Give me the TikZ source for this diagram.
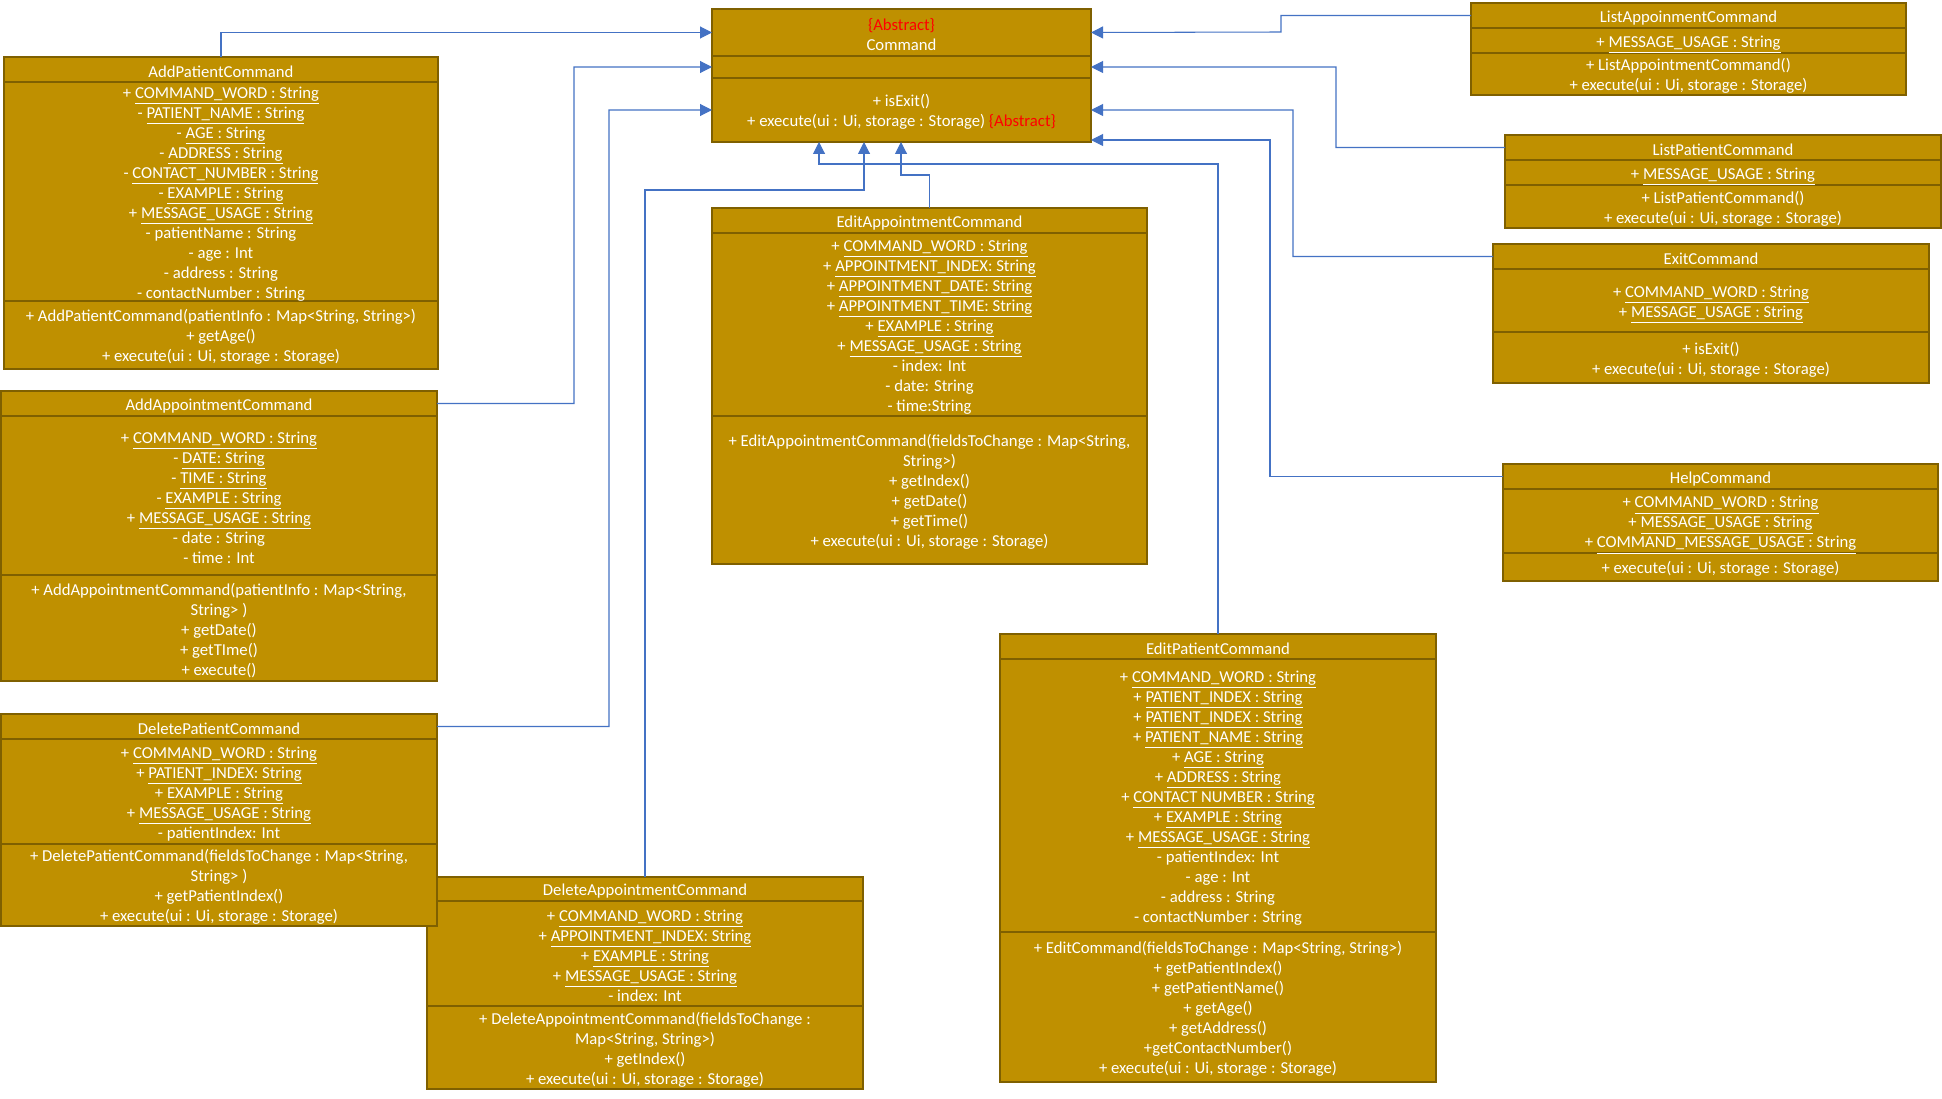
\documentclass[tikz,border=0pt]{standalone}
\usepackage{fontspec}
\setmainfont{Carlito}
\usepackage{tkz-euclide}
\usetikzlibrary{arrows.meta}
\definecolor{umlgold}{HTML}{BF9000}
\definecolor{umlborder}{HTML}{7F6000}
\definecolor{umlblue}{HTML}{4472C4}
\definecolor{umlred}{HTML}{FF0000}
\tikzset{
  umlpart/.style={draw=umlborder, fill=umlgold, line width=1.2pt,
    anchor=north west, inner sep=0pt, outer sep=0pt},
  umltext/.style={text=white, align=center, inner sep=0pt, yshift=-0.045cm,
    font=\fontsize{9.5}{11.38}\selectfont},
  inherit/.style={draw=umlblue, line width=0.6pt,
    -{Triangle[length=0.24cm,width=0.24cm]}}
}
\newcommand\ustatic[1]{\sbox0{\underline{#1}}\sbox2{g}\dp0=\dp2 \usebox0}
\newcommand\umlclass[9]{%
  \node[umlpart, minimum width=#3*0.02cm, minimum height=#4*0.02cm] (#1) at #2 {};
  \node[umlpart, minimum width=#3*0.02cm, minimum height=#5*0.02cm] (#1-a) at (#1.south west) {};
  \node[umlpart, minimum width=#3*0.02cm, minimum height=#6*0.02cm] (#1-m) at (#1-a.south west) {};
  \node[umltext] (#1-tt) at (#1.center) {#7};
  \node[umltext] (#1-at) at (#1-a.center) {#8};
  \node[umltext] (#1-mt) at (#1-m.center) {#9};
}
\begin{document}
\begin{tikzpicture}[x=0.02cm,y=-0.02cm]
            \fill[white] (0,0) rectangle (1942,1098);
            \useasboundingbox (0,0) rectangle (1942,1098);
            \umlclass{Cmd}{(712,9)}{379}{47}{22}{64}
              {{\color{umlred}\{Abstract\}}\\Command}
              {}
              {+ isExit()\\+ execute(ui : Ui, storage : Storage) {\color{umlred}\{Abstract\}}}
            \umlclass{AddP}{(4,57)}{434}{25}{219}{68}
              {AddPatientCommand}
              {+ \ustatic{COMMAND\_WORD : String}\\- \ustatic{PATIENT\_NAME : String}\\
               - \ustatic{AGE : String}\\- \ustatic{ADDRESS : String}\\
               - \ustatic{CONTACT\_NUMBER : String}\\- \ustatic{EXAMPLE : String}\\
               + \ustatic{MESSAGE\_USAGE : String}\\- patientName : String\\
               - age : Int\\- address : String\\- contactNumber : String}
              {+ AddPatientCommand(patientInfo : Map<String, String>)\\+ getAge()\\
               + execute(ui : Ui, storage : Storage)}
            \umlclass{AddA}{(1,391)}{436}{25}{159}{106}
              {AddAppointmentCommand}
              {+ \ustatic{COMMAND\_WORD : String}\\- \ustatic{DATE: String}\\
               - \ustatic{TIME : String}\\- \ustatic{EXAMPLE : String}\\
               + \ustatic{MESSAGE\_USAGE : String}\\- date : String\\- time : Int}
              {+ AddAppointmentCommand(patientInfo : Map<String,\\String> )\\
               + getDate()\\+ getTIme()\\+ execute()}
            \umlclass{DelA}{(427,877)}{436}{24}{105}{83}
              {DeleteAppointmentCommand}
              {+ \ustatic{COMMAND\_WORD : String}\\+ \ustatic{APPOINTMENT\_INDEX: String}\\
               + \ustatic{EXAMPLE : String}\\+ \ustatic{MESSAGE\_USAGE : String}\\- index: Int}
              {+ DeleteAppointmentCommand(fieldsToChange :\\Map<String, String>)\\
               + getIndex()\\+ execute(ui : Ui, storage : Storage)}
            \umlclass{DelP}{(1,714)}{436}{25}{105}{82}
              {DeletePatientCommand}
              {+ \ustatic{COMMAND\_WORD : String}\\+ \ustatic{PATIENT\_INDEX: String}\\
               + \ustatic{EXAMPLE : String}\\+ \ustatic{MESSAGE\_USAGE : String}\\
               - patientIndex: Int}
              {+ DeletePatientCommand(fieldsToChange : Map<String,\\String> )\\
               + getPatientIndex()\\+ execute(ui : Ui, storage : Storage)}
            \umlclass{EditA}{(712,208)}{435}{25}{183}{148}
              {EditAppointmentCommand}
              {+ \ustatic{COMMAND\_WORD : String}\\+ \ustatic{APPOINTMENT\_INDEX: String}\\
               + \ustatic{APPOINTMENT\_DATE: String}\\+ \ustatic{APPOINTMENT\_TIME: String}\\
               + \ustatic{EXAMPLE : String}\\+ \ustatic{MESSAGE\_USAGE : String}\\
               - index: Int\\- date: String\\- time:String}
              {+ EditAppointmentCommand(fieldsToChange : Map<String,\\String>)\\
               + getIndex()\\+ getDate()\\+ getTime()\\+ execute(ui : Ui, storage : Storage)}
            \umlclass{EditP}{(1000,634)}{436}{25}{273}{150}
              {EditPatientCommand}
              {+ \ustatic{COMMAND\_WORD : String}\\+ \ustatic{PATIENT\_INDEX : String}\\
               + \ustatic{PATIENT\_INDEX : String}\\+ \ustatic{PATIENT\_NAME : String}\\
               + \ustatic{AGE : String}\\+ \ustatic{ADDRESS : String}\\
               + \ustatic{CONTACT NUMBER : String}\\+ \ustatic{EXAMPLE : String}\\
               + \ustatic{MESSAGE\_USAGE : String}\\- patientIndex: Int\\- age : Int\\
               - address : String\\- contactNumber : String}
              {+ EditCommand(fieldsToChange : Map<String, String>)\\+ getPatientIndex()\\
               + getPatientName()\\+ getAge()\\+ getAddress()\\+getContactNumber()\\
               + execute(ui : Ui, storage : Storage)}
            \umlclass{ListA}{(1471,3)}{435}{25}{25}{42}
              {ListAppoinmentCommand}
              {+ \ustatic{MESSAGE\_USAGE : String}}
              {+ ListAppointmentCommand()\\+ execute(ui : Ui, storage : Storage)}
            \umlclass{ListP}{(1505,135)}{436}{25}{25}{43}
              {ListPatientCommand}
              {+ \ustatic{MESSAGE\_USAGE : String}}
              {+ ListPatientCommand()\\+ execute(ui : Ui, storage : Storage)}
            \umlclass{Exit}{(1493,244)}{436}{25}{63}{51}
              {ExitCommand}
              {+ \ustatic{COMMAND\_WORD : String}\\+ \ustatic{MESSAGE\_USAGE : String}}
              {+ isExit()\\+ execute(ui : Ui, storage : Storage)}
            \umlclass{Help}{(1503,464)}{435}{25}{64}{28}
              {HelpCommand}
              {+ \ustatic{COMMAND\_WORD : String}\\+ \ustatic{MESSAGE\_USAGE : String}\\
               + \ustatic{COMMAND\_MESSAGE\_USAGE : String}}
              {+ execute(ui : Ui, storage : Storage)}
            \tkzDefPoint(574,67){A}
            \tkzDefPoint(609,110){B}
            \tkzDefPoint(864,190){C}
            \tkzDefPoint(901,175){D}
            \tkzDefPoint(819,164){E}
            \tkzDefPoint(1281,32){F}
            \tkzDefPoint(1336,67){G}
            \tkzDefPoint(1293,110){H}
            \tkzDefPoint(1270,140){I}
            \draw[inherit] (AddP.north) |- (Cmd.west);
            \draw[inherit] (AddA.east) -| (A) -- (Cmd-a.west);
            \draw[inherit] (DelP.east) -| (B) -- (Cmd-m.west);
            \draw[inherit] (DelA.north) |- (C) -- (C |- Cmd-m.south);
            \draw[inherit] (EditA.north) |- (D) -- (D |- Cmd-m.south);
            \draw[inherit] (EditP.north) |- (E) -- (E |- Cmd-m.south);
            \draw[inherit] (ListA.west) -| (F) -- (Cmd.east);
            \draw[inherit] (ListP.west) -| (G) -- (Cmd-a.east);
            \draw[inherit] (Exit.west) -| (H) -- (Cmd-m.east);
            \draw[inherit] (Help.west) -| (I) -- (I -| Cmd-m.east);
        \end{tikzpicture}
\end{document}
